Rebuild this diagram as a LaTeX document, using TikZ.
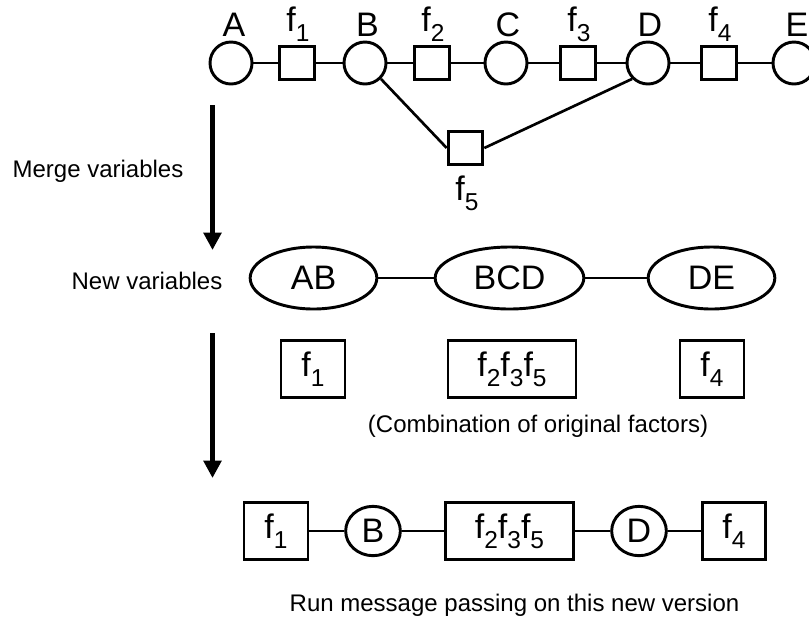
\documentclass[tikz,border=0pt]{standalone}
\usepackage{fontspec}
\setmainfont{Liberation Sans}
\usetikzlibrary{arrows.meta,shapes.geometric}
\newcommand\fsub[1]{\raisebox{-0.3em}{\scalebox{0.72}{#1}}}
\newcommand\lblfont{\fontsize{25.5}{30}\selectfont}
\newcommand\notefont{\fontsize{18}{22}\selectfont}
\begin{document}
\begin{tikzpicture}[x=0.75pt,y=-0.75pt,
  var/.style={circle,draw,line width=2.2pt,minimum size=31.5pt,inner sep=0pt},
  fac/.style={rectangle,draw,line width=2.2pt,minimum width=26pt,minimum height=24.5pt,inner sep=0pt},
  bigvar/.style={ellipse,draw,line width=2.2pt,minimum height=46.5pt,inner sep=0pt,font=\lblfont},
  bigfac/.style={rectangle,draw,line width=2.2pt,minimum height=43pt,inner sep=0pt,font=\lblfont},
  smallvar/.style={ellipse,draw,line width=2.2pt,minimum width=41pt,minimum height=37pt,inner sep=0pt,font=\lblfont},
  lbl/.style={font=\lblfont,inner sep=0pt,anchor=base},
  note/.style={font=\notefont,inner sep=0pt},
  edge/.style={line width=2pt},
  flow/.style={line width=3.8pt,-{Triangle[length=13pt,width=13pt]}}]
\useasboundingbox (0,0) rectangle (809,622);

% top factor graph
\node[var] (A) at (231,63) {};
\node[fac] (f1) at (297,63) {};
\node[var] (B) at (365,63) {};
\node[fac] (f2) at (432,63) {};
\node[var] (C) at (506,63) {};
\node[fac] (f3) at (578,63) {};
\node[var] (D) at (648,63) {};
\node[fac] (f4) at (719,63) {};
\node[var] (E) at (794,63) {};
\node[fac] (f5) at (465.5,148) {};

\node[lbl] (lA) at (234,36) {A};
\node[lbl] (lf1) at (298,31) {f\fsub{1}};
\node[lbl] (lB) at (367.5,36) {B};
\node[lbl] (lf2) at (433,31) {f\fsub{2}};
\node[lbl] (lC) at (508,36) {C};
\node[lbl] (lf3) at (579,31) {f\fsub{3}};
\node[lbl] (lD) at (650,36) {D};
\node[lbl] (lf4) at (720,31) {f\fsub{4}};
\node[lbl] (lE) at (797,36) {E};
\node[lbl] (lf5) at (467,200) {f\fsub{5}};

\draw[edge] (A) -- (f1) -- (B) -- (f2) -- (C) -- (f3) -- (D) -- (f4) -- (E);
\draw[edge] (B.south east) -- (f5.west);
\draw[edge] (D.south west) -- (f5.east);

% side notes and arrows
\node[note] (merge) at (98,171) {Merge variables};
\node[note] (newv) at (147,281) {New variables};
\coordinate (a1s) at (212.5,105);
\coordinate (a1e) at (212.5,250);
\coordinate (a2s) at (212.5,333);
\coordinate (a2e) at (212.5,478);
\draw[flow] (a1s) -- (a1e);
\draw[flow] (a2s) -- (a2e);

% merged variables
\node[bigvar,minimum width=95pt] (AB) at (313.5,278) {AB};
\node[bigvar,minimum width=111.5pt] (BCD) at (509.5,278) {BCD};
\node[bigvar,minimum width=95pt] (DE) at (711.5,278) {DE};
\draw[edge] (AB) -- (BCD) -- (DE);

\node[bigfac,minimum width=48pt] (g1) at (313,369) {f\fsub{1}};
\node[bigfac,minimum width=96pt] (g235) at (512,369) {f\fsub{2}f\fsub{3}f\fsub{5}};
\node[bigfac,minimum width=48pt] (g4) at (712,369) {f\fsub{4}};
\node[note] (comb) at (538,426) {(Combination of original factors)};

% new version
\node[bigfac,minimum width=48pt] (h1) at (276,531) {f\fsub{1}};
\node[smallvar] (hB) at (373,531) {B};
\node[bigfac,minimum width=96.5pt] (h235) at (509.5,531) {f\fsub{2}f\fsub{3}f\fsub{5}};
\node[smallvar] (hD) at (639,531) {D};
\node[bigfac,minimum width=47pt] (h4) at (734,531) {f\fsub{4}};
\draw[edge] (h1) -- (hB) -- (h235) -- (hD) -- (h4);
\node[note] (run) at (514.5,605) {Run message passing on this new version};
\end{tikzpicture}
\end{document}
